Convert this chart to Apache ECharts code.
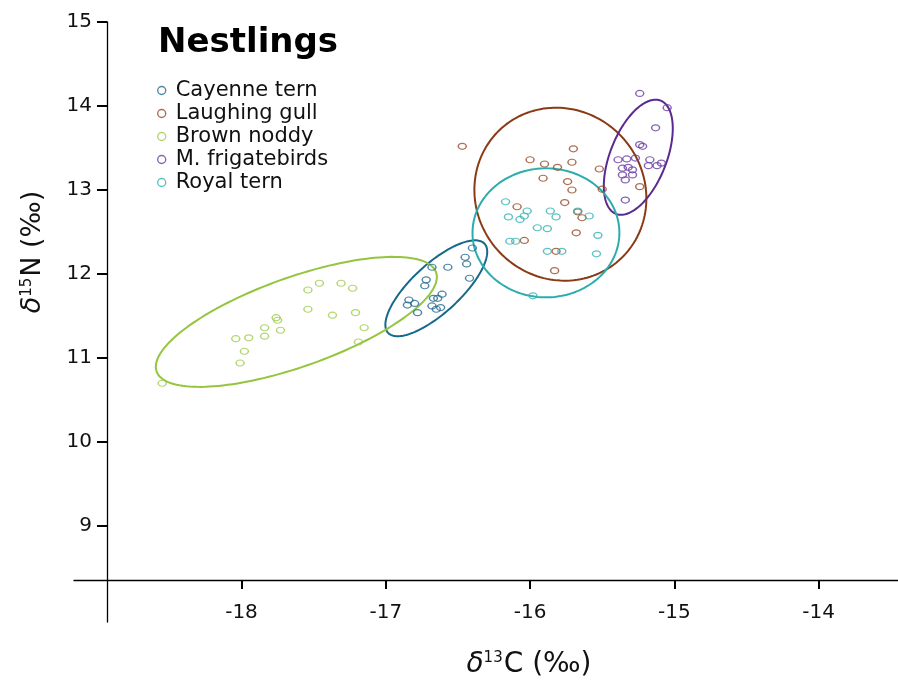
<!DOCTYPE html>
<html>
<head>
<meta charset="utf-8">
<script src="https://cdn.jsdelivr.net/npm/echarts@6/dist/echarts.min.js"></script>
<style>
  html, body { margin: 0; padding: 0; background: #ffffff; }
  #chart { width: 898px; height: 689px; }
</style>
</head>
<body>
<div id="chart"></div>
<script>
// Stable isotope values (δ13C, δ15N) of nestlings, per species
const speciesNames = ['Cayenne tern', 'Laughing gull', 'Brown noddy', 'M. frigatebirds', 'Royal tern'];

const cayenneTern = [
  [-16.40, 12.31], [-16.45, 12.20], [-16.44, 12.12], [-16.57, 12.08], [-16.68, 12.08],
  [-16.42, 11.95], [-16.72, 11.93], [-16.73, 11.86], [-16.61, 11.76], [-16.64, 11.71],
  [-16.67, 11.71], [-16.84, 11.69], [-16.80, 11.65], [-16.85, 11.63], [-16.68, 11.62],
  [-16.62, 11.60], [-16.65, 11.58], [-16.78, 11.54]
];
const laughingGull = [
  [-16.47, 13.52], [-16.00, 13.36], [-15.90, 13.31], [-15.81, 13.27], [-15.70, 13.49],
  [-15.71, 13.33], [-15.52, 13.25], [-15.91, 13.14], [-15.74, 13.10], [-15.71, 13.00],
  [-15.50, 13.01], [-15.24, 13.04], [-15.76, 12.85], [-16.09, 12.80], [-15.67, 12.74],
  [-15.64, 12.67], [-15.68, 12.49], [-16.04, 12.40], [-15.82, 12.27], [-15.83, 12.04]
];
const brownNoddy = [
  [-18.55, 10.70], [-18.04, 11.23], [-17.95, 11.24], [-17.98, 11.08], [-18.01, 10.94],
  [-17.84, 11.36], [-17.84, 11.26], [-17.76, 11.48], [-17.75, 11.45], [-17.73, 11.33],
  [-17.54, 11.81], [-17.46, 11.89], [-17.31, 11.89], [-17.23, 11.83], [-17.54, 11.58],
  [-17.37, 11.51], [-17.21, 11.54], [-17.15, 11.36], [-17.19, 11.19]
];
const frigatebirds = [
  [-15.24, 14.15], [-15.05, 13.98], [-15.13, 13.74], [-15.24, 13.54], [-15.22, 13.52],
  [-15.39, 13.36], [-15.33, 13.37], [-15.27, 13.38], [-15.17, 13.36], [-15.18, 13.29],
  [-15.12, 13.29], [-15.09, 13.32], [-15.36, 13.26], [-15.32, 13.27], [-15.29, 13.24],
  [-15.36, 13.18], [-15.29, 13.18], [-15.34, 13.12], [-15.34, 12.88]
];
const royalTern = [
  [-16.17, 12.86], [-16.02, 12.75], [-16.15, 12.68], [-16.07, 12.65], [-16.04, 12.69],
  [-15.86, 12.75], [-15.82, 12.68], [-15.95, 12.55], [-15.88, 12.54], [-16.14, 12.39],
  [-16.10, 12.39], [-15.88, 12.27], [-15.78, 12.27], [-15.67, 12.75], [-15.59, 12.69],
  [-15.53, 12.46], [-15.54, 12.24], [-15.98, 11.74]
];

// Standard ellipses: [centre δ13C, centre δ15N, half-width δ13C, half-height δ15N, correlation]
const cayenneEllipse = [-16.65, 11.83, 0.353, 0.571, 0.76];
const laughingEllipse = [-15.79, 12.95, 0.596, 1.03, -0.05];
const noddyEllipse = [-17.62, 11.43, 0.974, 0.774, 0.69];
const frigateEllipse = [-15.25, 13.39, 0.239, 0.685, 0.50];
const royalEllipse = [-15.89, 12.49, 0.509, 0.768, 0.00];

const xTicks = [-18, -17, -16, -15, -14];
const yTicks = [9, 10, 11, 12, 13, 14, 15];

const pointColors = ['#246a8c', '#9a4a26', '#9fcc4c', '#6a3fa0', '#36b3b3'];
const ellipseColors = ['#17698b', '#8a3a14', '#93c63e', '#5a2a8e', '#2badad'];

const FONT = 'DejaVu Sans';

const pointSets = [cayenneTern, laughingGull, brownNoddy, frigatebirds, royalTern];
const ellipseSets = [cayenneEllipse, laughingEllipse, noddyEllipse, frigateEllipse, royalEllipse];

function ellipseRenderer(color) {
  return function (params, api) {
    const cx = api.value(0), cy = api.value(1);
    const sx = api.value(2), sy = api.value(3), r = api.value(4);
    const k = Math.sqrt(1 - r * r);
    const pts = [];
    const n = 160;
    for (let i = 0; i <= n; i++) {
      const t = (i / n) * Math.PI * 2;
      const c = Math.cos(t), s = Math.sin(t);
      pts.push(api.coord([cx + sx * c, cy + sy * (r * c + k * s)]));
    }
    return {
      type: 'polyline',
      shape: { points: pts },
      style: { fill: null, stroke: color, lineWidth: 2 }
    };
  };
}

const series = [];
ellipseSets.forEach(function (e, i) {
  series.push({
    name: speciesNames[i] + ' ellipse',
    type: 'custom',
    coordinateSystem: 'cartesian2d',
    dimensions: ['x', 'y', 'sx', 'sy', 'r'],
    encode: { x: 0, y: 1 },
    data: [e],
    renderItem: ellipseRenderer(ellipseColors[i]),
    silent: true,
    z: 2
  });
});
pointSets.forEach(function (d, i) {
  series.push({
    name: speciesNames[i],
    type: 'scatter',
    data: d,
    symbol: 'circle',
    symbolSize: [8, 6],
    itemStyle: { color: 'rgba(255,255,255,0)', borderColor: pointColors[i], borderWidth: 1.3 },
    z: 3
  });
});

const chart = echarts.init(document.getElementById('chart'), null, { renderer: 'canvas' });

chart.setOption({
  animation: false,
  backgroundColor: '#ffffff',
  title: {
    text: 'Nestlings',
    left: 158,
    top: 26,
    padding: 0,
    textStyle: { fontFamily: FONT, fontWeight: 'bold', fontSize: 34, color: '#000' }
  },
  legend: {
    data: speciesNames,
    orient: 'vertical',
    left: 157,
    top: 79,
    padding: 0,
    itemGap: 0,
    itemWidth: 18,
    itemHeight: 8,
    icon: 'circle',
    itemStyle: { borderWidth: 1.4 },
    textStyle: { fontFamily: FONT, fontSize: 21, color: '#111', lineHeight: 23 }
  },
  grid: { left: 74, right: 0, top: 22, bottom: 67, containLabel: false },
  xAxis: {
    type: 'value',
    min: -19.161,
    max: -13.45,
    offset: -42,
    splitLine: { show: false },
    axisLine: { onZero: false, lineStyle: { color: '#000', width: 1.3 } },
    axisTick: { customValues: xTicks, length: 9, lineStyle: { color: '#000', width: 2 } },
    axisLabel: { customValues: xTicks, margin: 23, fontFamily: FONT, fontSize: 20, color: '#111' }
  },
  yAxis: {
    type: 'value',
    min: 7.857,
    max: 15,
    offset: -33,
    splitLine: { show: false },
    axisLine: { onZero: false, lineStyle: { color: '#000', width: 1.3 } },
    axisTick: { customValues: yTicks, length: 10, lineStyle: { color: '#000', width: 2 } },
    axisLabel: { customValues: yTicks, margin: 15, fontFamily: FONT, fontSize: 20, color: '#111' }
  },
  graphic: [
    {
      type: 'text',
      x: 529,
      y: 665,
      style: {
        text: '{d|δ}{s|13}{t|C (‰)}',
        align: 'center',
        verticalAlign: 'middle',
        rich: {
          d: { fontFamily: FONT, fontStyle: 'italic', fontSize: 28, fill: '#111' },
          s: { fontFamily: FONT, fontSize: 15, fill: '#111', verticalAlign: 'top', padding: [0, 1, 0, 0] },
          t: { fontFamily: FONT, fontSize: 28, fill: '#111' }
        }
      }
    },
    {
      type: 'text',
      x: 33,
      y: 252,
      rotation: Math.PI / 2,
      style: {
        text: '{d|δ}{s|15}{t|N (‰)}',
        align: 'center',
        verticalAlign: 'middle',
        rich: {
          d: { fontFamily: FONT, fontStyle: 'italic', fontSize: 27, fill: '#111' },
          s: { fontFamily: FONT, fontSize: 15, fill: '#111', verticalAlign: 'top', padding: [0, 1, 0, 0] },
          t: { fontFamily: FONT, fontSize: 27, fill: '#111' }
        }
      }
    }
  ],
  series: series
});
</script>
</body>
</html>
